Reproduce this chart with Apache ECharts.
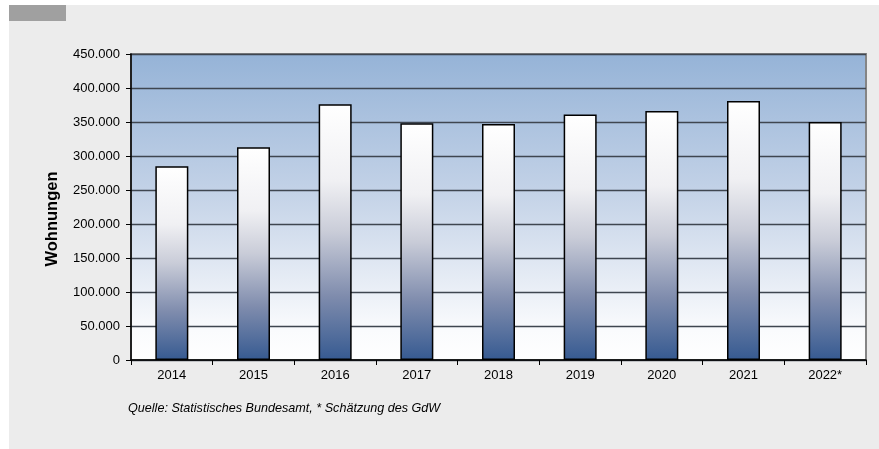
<!DOCTYPE html>
<html>
<head>
<meta charset="utf-8">
<script src="https://cdn.jsdelivr.net/npm/echarts@6/dist/echarts.min.js"></script>
<style>
  html, body { margin: 0; padding: 0; background: #ffffff; }
  #chart { width: 879px; height: 449px; }
</style>
</head>
<body>
<div id="chart"></div>
<script>
// Genehmigte Wohnungen je Jahr
const years = ['2014', '2015', '2016', '2017', '2018', '2019', '2020', '2021', '2022*'];
const wohnungen = [285000, 313000, 376000, 348000, 347000, 361000, 366000, 381000, 350000];
const yMax = 450000;
const yStep = 50000;
const sourceNote = 'Quelle: Statistisches Bundesamt, * Schätzung des GdW';
const yTitle = 'Wohnungen';

// German thousands separator
function fmtDe(v) {
  return String(Math.round(v)).replace(/\B(?=(\d{3})+(?!\d))/g, '.');
}

const chart = echarts.init(document.getElementById('chart'), null, { renderer: 'canvas' });

const barFill = new echarts.graphic.LinearGradient(0, 0, 0, 1, [
  { offset: 0, color: '#ffffff' },
  { offset: 0.3, color: '#f0f0f3' },
  { offset: 0.5, color: '#c9ccd8' },
  { offset: 0.75, color: '#7f8cad' },
  { offset: 1, color: '#365a91' }
]);

const plotFill = new echarts.graphic.LinearGradient(0, 0, 0, 1, [
  { offset: 0, color: '#95b3d7' },
  { offset: 0.45, color: '#c3d2e7' },
  { offset: 0.9, color: '#fafbfd' },
  { offset: 1, color: '#ffffff' }
]);

chart.setOption({
  animation: false,
  backgroundColor: '#ffffff',
  graphic: [
    { type: 'rect', z: -10, shape: { x: 9, y: 5, width: 870, height: 444 }, style: { fill: '#ececec' } },
    { type: 'rect', z: -9, shape: { x: 9, y: 5, width: 57, height: 16 }, style: { fill: '#a0a0a0' } },
    {
      type: 'text', x: 52, y: 219, rotation: Math.PI / 2, z: 10,
      style: {
        text: yTitle, fill: '#000', font: 'bold 16.5px "Liberation Sans", Arial, sans-serif',
        align: 'center', verticalAlign: 'middle'
      }
    },
    {
      type: 'text', x: 128, y: 408, z: 10,
      style: {
        text: sourceNote, fill: '#000', font: 'italic 12.6px "Liberation Sans", Arial, sans-serif',
        align: 'left', verticalAlign: 'middle'
      }
    }
  ],
  grid: {
    left: 131, right: 13, top: 54, bottom: 89,
    show: true,
    backgroundColor: plotFill,
    borderColor: '#858585',
    borderWidth: 2
  },
  xAxis: {
    type: 'category',
    data: years,
    boundaryGap: true,
    axisLine: { show: true, lineStyle: { color: '#000', width: 1.5 } },
    axisTick: { show: true, alignWithLabel: false, length: 5, lineStyle: { color: '#000', width: 1 } },
    axisLabel: { color: '#000', fontSize: 13, fontFamily: '"Liberation Sans", Arial, sans-serif', margin: 9 },
    splitLine: { show: false }
  },
  yAxis: {
    type: 'value',
    min: 0, max: yMax, interval: yStep,
    axisLine: { show: true, lineStyle: { color: '#000', width: 1.5 } },
    axisTick: { show: true, length: 5, lineStyle: { color: '#000', width: 1 } },
    axisLabel: {
      color: '#000', fontSize: 13, fontFamily: '"Liberation Sans", Arial, sans-serif', margin: 11,
      formatter: fmtDe
    },
    splitLine: { show: true, lineStyle: { color: '#3f4650', width: 1.3 } }
  },
  series: [{
    type: 'bar',
    data: wohnungen,
    barWidth: 33,
    itemStyle: { color: barFill, borderColor: '#000', borderWidth: 1.5 }
  }]
});
</script>
</body>
</html>
